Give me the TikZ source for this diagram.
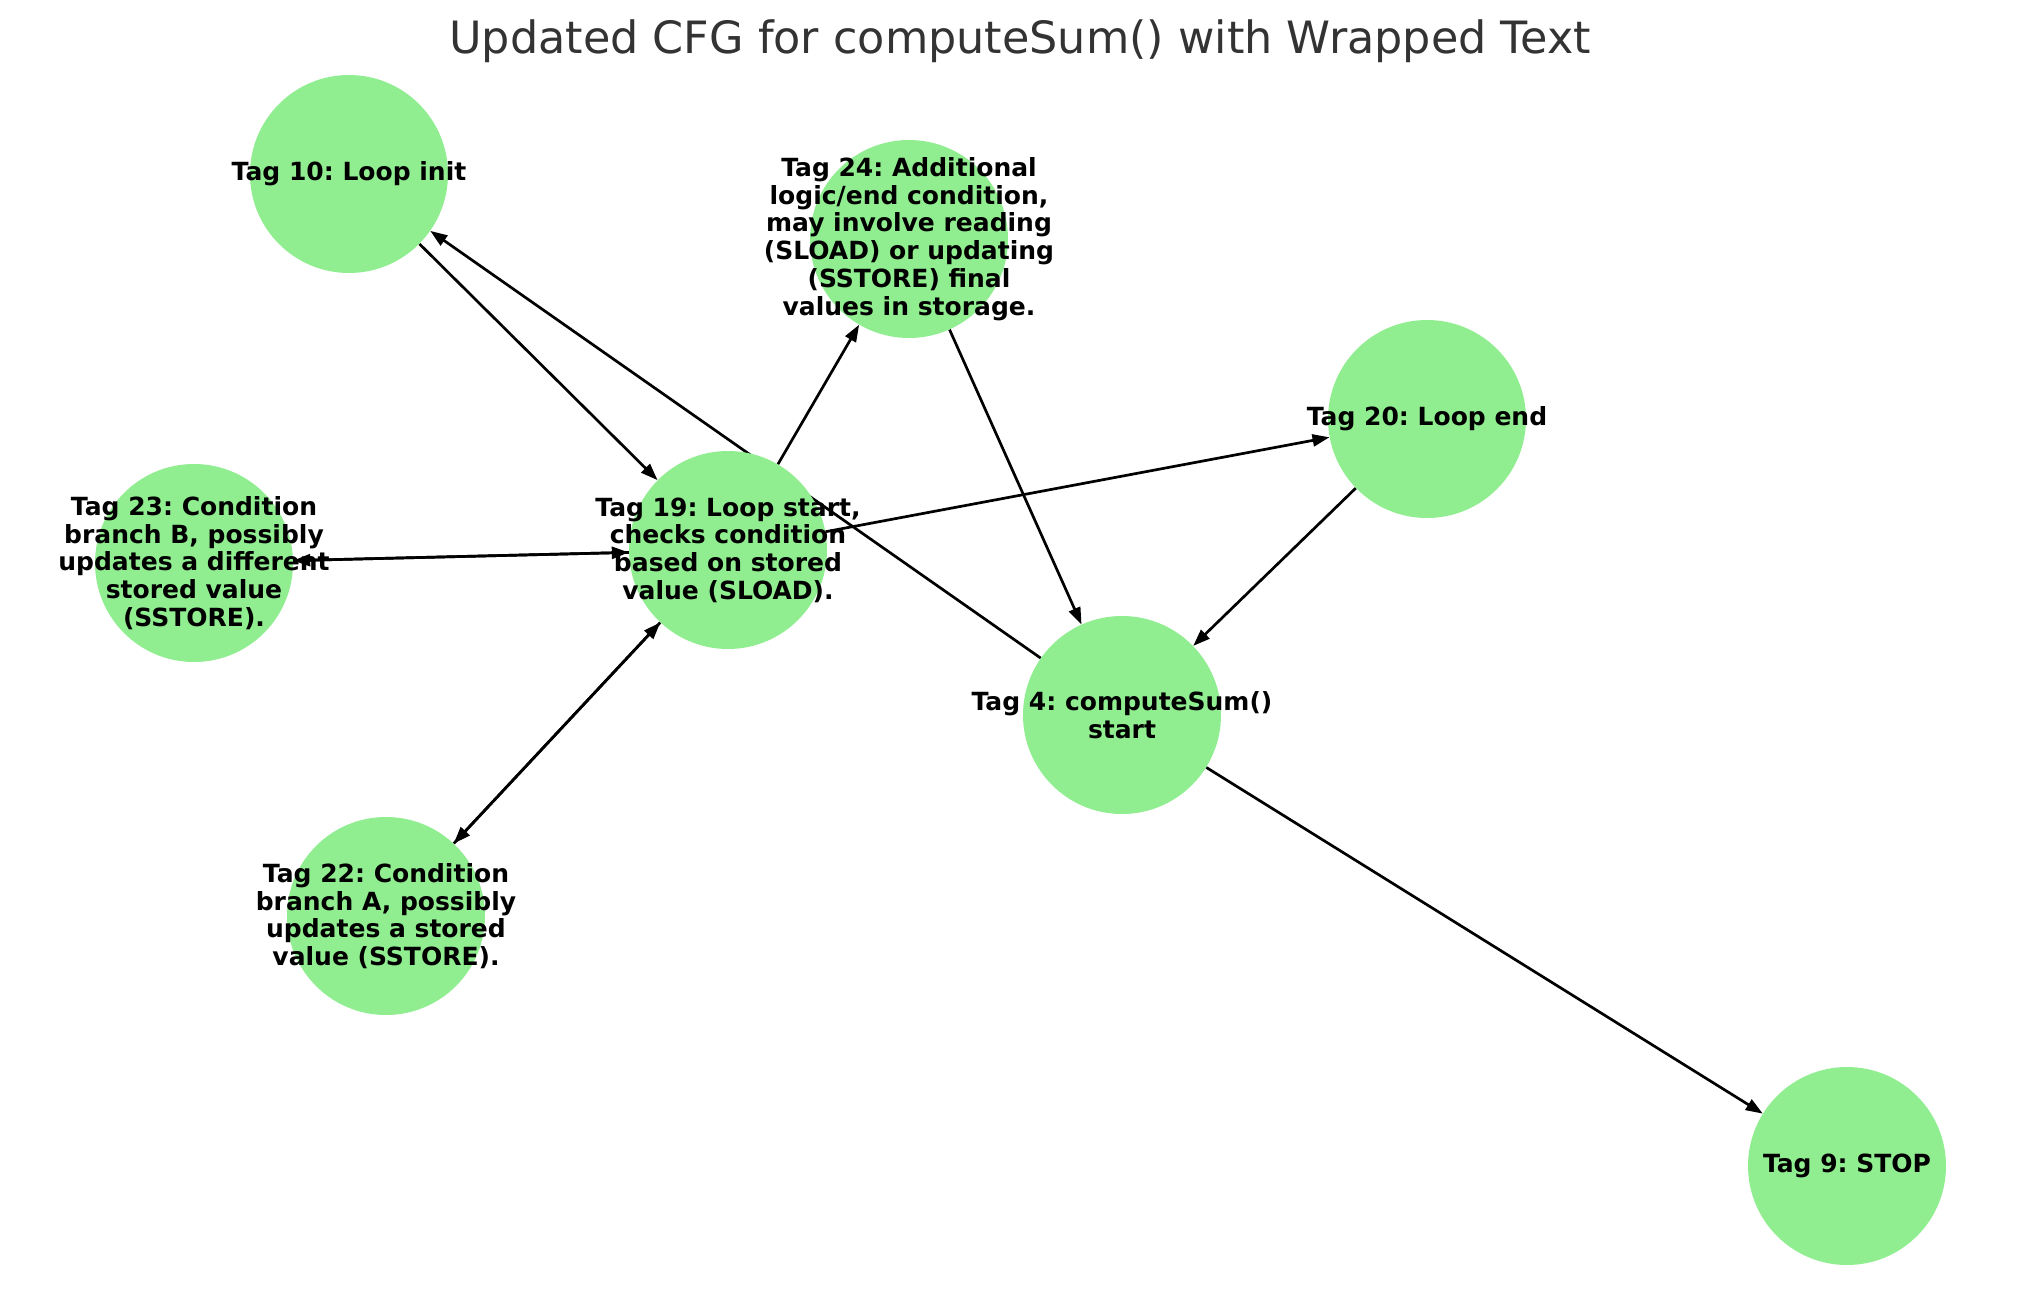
\documentclass[tikz,border=0pt]{standalone}
\usepackage{fontspec}
\setmainfont{DejaVu Sans}
\usetikzlibrary{arrows.meta}
\definecolor{nodegreen}{HTML}{90EE90}
\definecolor{titlegray}{HTML}{333333}
\pgfdeclarelayer{bg}
\pgfsetlayers{bg,main}
\frenchspacing
\tikzset{
  cfgnode/.style={circle, fill=nodegreen, draw=none, minimum size=198pt, inner sep=0pt},
  cfglabel/.style={align=center, inner sep=0pt, font=\fontsize{25}{27.7}\selectfont\bfseries\frenchspacing, text=black},
  cfgedge/.style={line width=2.7pt, -{Triangle[length=17pt,width=12pt]}, black}
}
\begin{document}
\begin{tikzpicture}[x=1pt,y=-1pt]
\useasboundingbox (0,0) rectangle (2039,1290);
\node[font=\fontsize{44.5}{52}\selectfont, text=titlegray] (title) at (1020,41) {Updated CFG for computeSum() with Wrapped Text};

\node[cfgnode] (n10) at (349,174) {};
\node[cfgnode] (n24) at (909,239) {};
\node[cfgnode] (n20) at (1427,419) {};
\node[cfgnode] (n23) at (194,563) {};
\node[cfgnode] (n19) at (728,550) {};
\node[cfgnode] (n4) at (1122,715) {};
\node[cfgnode] (n22) at (386,916) {};
\node[cfgnode] (n9) at (1847,1166) {};

\begin{pgfonlayer}{bg}
\draw[cfgedge] (n10) -- (n19);
\draw[cfgedge] (n4) -- (n10);
\draw[cfgedge] (n19) -- (n24);
\draw[cfgedge] (n24) -- (n4);
\draw[cfgedge] (n19) -- (n20);
\draw[cfgedge] (n20) -- (n4);
\draw[cfgedge] (n19) -- (n23);
\draw[cfgedge] (n23) -- (n19);
\draw[cfgedge] (n19) -- (n22);
\draw[cfgedge] (n22) -- (n19);
\draw[cfgedge] (n4) -- (n9);
\end{pgfonlayer}

\node[cfglabel] (t10) at (n10.center) {Tag 10: Loop init};
\node[cfglabel] (t24) at (n24.center) {Tag 24: Additional\\logic/end condition,\\may involve reading\\(SLOAD) or updating\\(SSTORE) final\\values in storage.};
\node[cfglabel] (t20) at (n20.center) {Tag 20: Loop end};
\node[cfglabel] (t23) at (n23.center) {Tag 23: Condition\\branch B, possibly\\updates a different\\stored value\\(SSTORE).};
\node[cfglabel] (t19) at (n19.center) {Tag 19: Loop start,\\checks condition\\based on stored\\value (SLOAD).};
\node[cfglabel] (t4) at (n4.center) {Tag 4: computeSum()\\start};
\node[cfglabel] (t22) at (n22.center) {Tag 22: Condition\\branch A, possibly\\updates a stored\\value (SSTORE).};
\node[cfglabel] (t9) at (n9.center) {Tag 9: STOP};
\end{tikzpicture}
\end{document}
